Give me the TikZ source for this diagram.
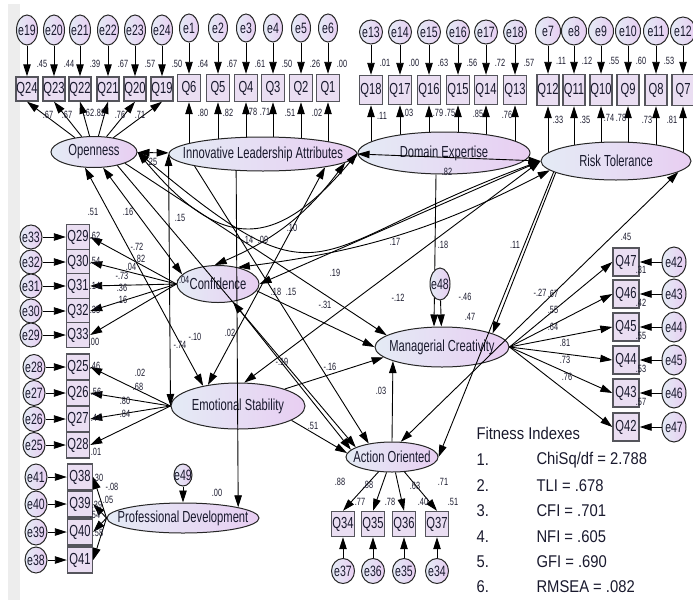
\documentclass[tikz,border=0pt]{standalone}
\usepackage{fontspec}
\setmainfont{Liberation Sans}[FakeStretch=0.7]
\newfontfamily\fitfont{Liberation Sans}[FakeStretch=0.87]
\usetikzlibrary{shapes.geometric, arrows.meta, backgrounds}
\definecolor{ink}{RGB}{25,25,45}
\definecolor{latL}{RGB}{228,235,245}
\definecolor{latR}{RGB}{232,206,242}
\definecolor{boxfill}{RGB}{234,222,242}
\definecolor{boxline}{RGB}{85,85,92}
\definecolor{stripe}{gray}{0.93}
\newcommand{\zwbox}[1]{\makebox[0pt]{#1}}

\begin{document}
\begin{tikzpicture}[x=1pt, y=-1pt,
  font=\fontsize{16}{16}\selectfont, text=ink,
  lat/.style={ellipse, draw=black!85, line width=1pt, left color=latL,
              right color=latR, inner sep=0pt},
  err/.style={lat, inner sep=-3pt, font=\fontsize{15}{15}\selectfont},
  obs/.style={draw=boxline, line width=1.4pt, fill=boxfill, inner sep=0pt,
              minimum width=22pt, minimum height=25pt},
  num/.style={font=\fontsize{10.5}{11}\selectfont, inner sep=0pt},
  ar/.style={-{Triangle[length=12pt,width=7.5pt]}, line width=.9pt},
  cov/.style={{Triangle[length=12pt,width=7.5pt]}-{Triangle[length=12pt,width=7.5pt]},
              line width=.9pt},
]
\useasboundingbox (0,0) rectangle (693,600);
\fill[stripe] (8,4) rectangle (20,600);

% latent factors
\node[lat, minimum width=86pt,  minimum height=31pt] (O) at (94,152)  {\zwbox{Openness}};
\node[lat, minimum width=188pt, minimum height=34pt] (I) at (263,154) {\zwbox{Innovative Leadership Attributes}};
\node[lat, minimum width=172pt, minimum height=42pt] (D) at (444,153) {\zwbox{Domain Expertise}};
\node[lat, minimum width=150pt, minimum height=38pt] (R) at (616,161) {\zwbox{Risk Tolerance}};
\node[lat, minimum width=82pt,  minimum height=37pt] (C) at (218,284) {\zwbox{Confidence}};
\node[lat, minimum width=134pt, minimum height=46pt] (S) at (238,406) {\zwbox{Emotional Stability}};
\node[lat, minimum width=152pt, minimum height=30pt] (P) at (183,518) {\zwbox{Professional Development}};
\node[lat, minimum width=134pt, minimum height=40pt] (M) at (442,347) {\zwbox{Managerial Creativity}};
\node[lat, minimum width=92pt,  minimum height=30pt] (A) at (392,457) {\zwbox{Action Oriented}};

% top indicator rows
\foreach \q/\e/\x/\r in {24/19/27/.45, 23/20/54/.44, 22/21/80/.39, 21/22/108/.67, 20/23/135/.57, 19/24/162/.50}{
  \node[err, minimum width=21pt, minimum height=30pt] (e\e) at (\x,30) {\zwbox{e\e}};
  \node[obs, minimum height=24pt] (Q\q) at (\x,89) {Q\q};
  \node[num] (r\q) at (\x+15,64) {\r};
  \draw[ar] (e\e) -- (Q\q);
  \draw[ar] (O) -- (Q\q.south);
}
\foreach \q/\e/\x/\r in {6/1/189/.64, 5/2/218/.67, 4/3/246/.61, 3/4/273/.50, 2/5/301/.26, 1/6/328/.00}{
  \node[err, minimum width=19pt, minimum height=28pt] (e\e) at (\x,28) {\zwbox{e\e}};
  \node[obs, minimum width=23pt, minimum height=27pt] (Q\q) at (\x,88) {Q\q};
  \node[num] (r\q) at (\x+14,64) {\r};
  \draw[ar] (e\e) -- (Q\q);
}
\foreach \q/\e/\x/\r in {18/13/371/.01, 17/14/400/.00, 16/15/429/.63, 15/16/458/.56, 14/17/486/.72, 13/18/515/.57}{
  \node[err, minimum width=23pt, minimum height=24pt] (e\e) at (\x,32) {\zwbox{e\e}};
  \node[obs, minimum width=23pt, minimum height=29pt] (Q\q) at (\x,90) {Q\q};
  \node[num] (r\q) at (\x+14,63) {\r};
  \draw[ar] (e\e) -- (Q\q);
}
\foreach \q/\e/\x/\r in {12/7/548/.11, 11/8/574/.12, 10/9/601/.55, 9/10/628/.60, 8/11/656/.53, 7/12/683/{}}{
  \node[err, minimum width=25pt, minimum height=28pt] (e\e) at (\x,31) {\zwbox{e\e}};
  \node[obs, minimum height=31pt] (Q\q) at (\x,90) {Q\q};
  \node[num] (r\q) at (\x+13,61) {\r};
  \draw[ar] (e\e) -- (Q\q);
}
\begin{scope}[on background layer]
\foreach \q in {6,5,4,3,2,1} \draw[ar] (Q\q |- I) -- (Q\q.south);
\foreach \q in {18,17,16,15,14,13} \draw[ar] (Q\q |- D) -- (Q\q.south);
\foreach \q in {12,11,10,9,8,7} \draw[ar] (Q\q |- R) -- (Q\q.south);
\end{scope}

% left columns
\foreach \q/\e/\y in {29/33/237, 30/32/262, 31/31/286, 32/30/311, 33/29/335}{
  \node[obs, minimum width=23pt, minimum height=24.5pt] (Q\q) at (78,\y) {Q\q};
  \node[err, minimum width=22pt, minimum height=24pt] (e\e) at (31,\y) {\zwbox{e\e}};
  \draw[ar] (e\e) -- (Q\q);
  \draw[ar] (C.west) -- (Q\q.east);
}
\foreach \q/\e/\y in {25/28/367, 26/27/393, 27/26/419, 28/25/445}{
  \node[obs, minimum width=23pt, minimum height=26pt] (Q\q) at (78,\y) {Q\q};
  \node[err, minimum width=22pt, minimum height=25pt] (e\e) at (34,\y) {\zwbox{e\e}};
  \draw[ar] (e\e) -- (Q\q);
  \draw[ar] (S.west) -- (Q\q.east);
}
\foreach \q/\e/\y in {38/41/477, 39/40/504, 40/39/532, 41/38/560}{
  \node[obs, minimum width=25pt, minimum height=26pt] (Q\q) at (80,\y) {Q\q};
  \node[err, minimum width=22pt, minimum height=26pt] (e\e) at (36,\y) {\zwbox{e\e}};
  \draw[ar] (e\e) -- (Q\q);
  \draw[ar] (P.west) -- (Q\q.east);
}

% managerial creativity and action oriented indicators
\foreach \q/\e/\y in {47/42/262, 46/43/294, 45/44/327, 44/45/360, 43/46/393, 42/47/427}{
  \node[obs, minimum width=26pt, minimum height=28pt] (Q\q) at (626,\y) {Q\q};
  \node[err, minimum width=24pt, minimum height=30pt] (e\e) at (674,\y) {\zwbox{e\e}};
  \draw[ar] (e\e) -- (Q\q);
  \draw[ar] (M.east) -- (Q\q.west);
}
\foreach \q/\e/\x in {34/37/343, 35/36/373, 36/35/404, 37/34/437}{
  \node[obs, minimum width=23pt] (Q\q) at (\x,524) {Q\q};
  \node[err, minimum width=23pt, minimum height=25pt] (e\e) at (\x,571) {\zwbox{e\e}};
  \draw[ar] (e\e) -- (Q\q);
  \draw[ar] (A) -- (Q\q.north);
}

% covariances
\draw[cov] (O) -- (I);
\draw[cov] (I.east) -- (R.west);
\draw[cov] (O.east) to[out=-50, in=-130, looseness=1.5] (D.west);
\draw[cov] (O.east) to[out=-40, in=-160, looseness=1.6] (R.west);
\draw[cov] (I.-6) to[bend left=15] (C.100);
\draw[cov] (C.40) to[bend right=10] (R.188);
\draw[cov] (C.east) -- (R.west);
\draw[cov] (R.west) -- (S.75);
\draw[cov] (O.-60) -- (C.165);
\draw[cov] (O.240) -- (S.150);
\draw[cov] (I.west) -- (S.west);
\draw[cov] (I.-12) -- (S.145);
\draw[cov] (C.-50) -- (A.170);
\draw[cov] (R.-10) -- (A.60);

% paths
\draw[ar] (C.-10) -- (M.west);
\draw[ar] (S.20) -- (M.190);
\draw[ar] (O.-20) -- (M.168);
\draw[ar] ([xshift=-8pt]D.south) -- ([xshift=-8pt]M.north);
\node[err, minimum width=20pt, minimum height=32pt] (e48) at (440,284) {\zwbox{e48}};
\draw[ar] (e48) -- (M);
\draw[ar] (R.191) -- (M.15);
\draw[ar] (A.north) -- (M.196);
\draw[ar] (R.190) -- (A.east);
\draw[ar] (O.-30) -- (A.165);
\draw[ar] (I.190) -- (A.150);
\draw[ar] (S.-15) -- (A.175);
\draw[ar] (I.212) -- (P.11);
\node[err, minimum width=18pt, minimum height=22pt] (e49) at (183,475) {\zwbox{e49}};
\draw[ar] (e49) -- (P);

% estimates
\foreach \lb/\x/\y [count=\i] in {.67/48/115, .67/67/115, .62/89/113, .82/100/113, .76/120/115, .71/140/115,
  .80/203/113, .82/228/113, .78/252/112, .71/265/112, .51/290/113, .02/317/113,
  .11/382/116, .03/408/113, .79/438/113, .75/450/113, .85/478/114, .76/507/115,
  .33/558/120, .35/585/120, .74/609/118, .78/621/118, .73/647/120, .81/672/120,
  .25/152/162, .16/128/212, .51/93/212, .15/180/218, .10/292/228, .14/248/240, .09/263/240,
  .17/395/242, .18/443/245, .11/515/245, .82/447/172,
  -.72/137/247, .82/140/259, .04/131/267, -.73/122/276, .36/122/288, .16/122/300, -.04/183/280,
  .19/335/273, -.12/398/298, .18/276/292, .15/291/292, -.31/325/305, -.46/465/297, .47/470/317,
  -.27/540/293, .67/553/294, .55/553/310, .64/553/327, .81/565/343, .73/565/360, .76/567/377,
  .45/626/237, .31/641/270, .42/641/303, .55/641/336, .53/641/369, .57/641/402,
  -.74/180/345, -.10/195/337, .02/230/333, -.19/282/362, -.16/330/367, .03/381/391, .51/313/426,
  .02/140/373, .68/138/387, .80/125/401, .84/125/414, .01/96/452,
  .62/95/236, .54/95/261, .14/95/286, .35/95/310, .00/94/342, .46/95/366, .56/96/392, .44/96/418,
  .30/98/478, -.08/112/487, .05/108/500, .39/97/505, .54/95/515, .58/98/533, .00/217/493,
  .88/340/482, .88/368/485, .63/415/486, .71/443/482, .77/360/502, .78/390/502, .40/423/502, .51/453/502}
  \node[num] (n\i) at (\x,\y) {\lb};

% fit indices
\node[anchor=west, font={\fitfont\fontsize{17}{17}\selectfont}] (fith) at (473,433) {Fitness Indexes};
\foreach \lb [count=\i] in {{ChiSq/df = 2.788}, {TLI = .678}, {CFI = .701}, {NFI = .605}, {GFI = .690}, {RMSEA = .082}}{
  \node[anchor=west, font={\fitfont\fontsize{17}{17}\selectfont}] (k\i) at (473,460+25.4*\i-25.4) {\i.};
  \node[anchor=west, font={\fitfont\fontsize{17}{17}\selectfont}] (v\i) at (533,460+25.4*\i-25.4) {\lb};
}
\end{tikzpicture}
\end{document}
